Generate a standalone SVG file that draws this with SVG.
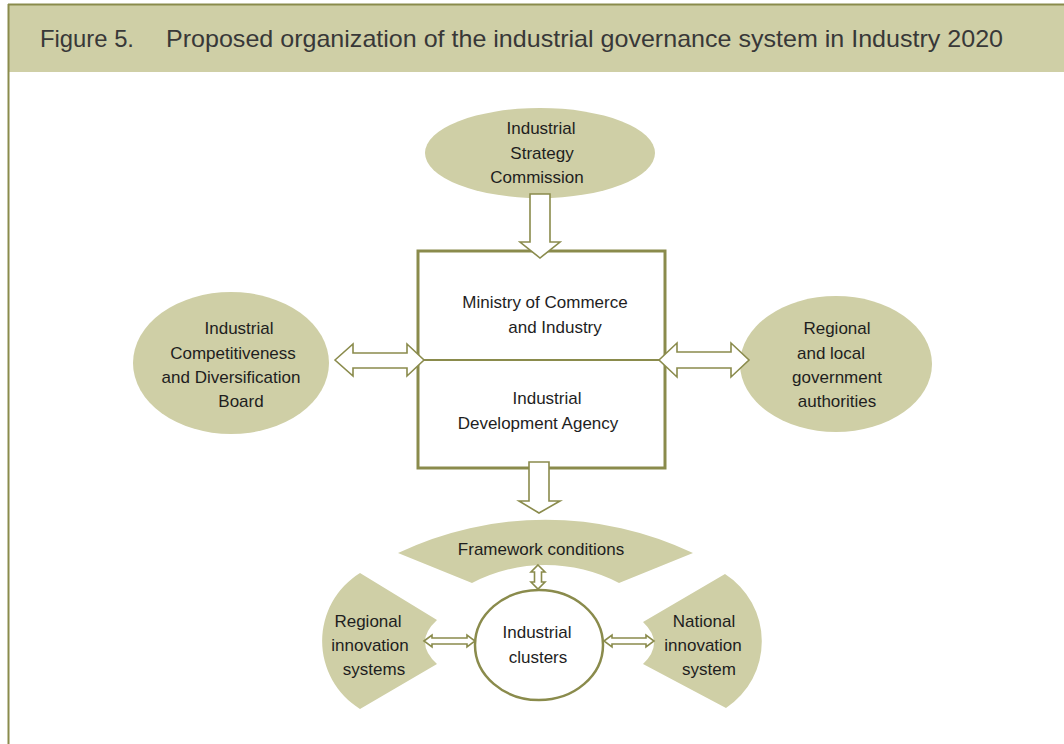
<svg xmlns="http://www.w3.org/2000/svg" width="1064" height="744" viewBox="0 0 1064 744">
  <style>
    .shape { fill: #cfcfa6; stroke: none; }
    .frame { fill: #ffffff; stroke: #8a8b4c; stroke-width: 3; }
    .arrow { fill: #ffffff; stroke: #8a8b4c; stroke-width: 1.6; stroke-linejoin: miter; }
    .label { font-family: "Liberation Sans", Arial, sans-serif; font-size: 17px; fill: #1e1e1e; text-anchor: middle; }
    .title { font-family: "Liberation Sans", Arial, sans-serif; font-size: 24px; fill: #383838; }
  </style>

  <!-- page background and figure frame -->
  <rect x="0" y="0" width="1064" height="744" fill="#ffffff"/>
  <rect x="9" y="5" width="1055" height="67" fill="#cfcfa6"/>
  <line x1="8" y1="4.5" x2="1064" y2="4.5" stroke="#8a8b4c" stroke-width="2"/>
  <line x1="8.5" y1="4" x2="8.5" y2="744" stroke="#8a8b4c" stroke-width="2"/>
  <text class="title" x="40" y="47" textLength="94" lengthAdjust="spacingAndGlyphs">Figure 5.</text>
  <text class="title" x="166" y="47" textLength="837" lengthAdjust="spacingAndGlyphs">Proposed organization of the industrial governance system in Industry 2020</text>

  <g id="strategy-commission">
    <ellipse class="shape" cx="540" cy="153" rx="115" ry="45"/>
    <text class="label" x="541" y="134">Industrial</text>
    <text class="label" x="542" y="159">Strategy</text>
    <text class="label" x="537" y="183">Commission</text>
  </g>

  <g id="competitiveness-board">
    <ellipse class="shape" cx="231" cy="363" rx="98" ry="71"/>
    <text class="label" x="239" y="334">Industrial</text>
    <text class="label" x="233" y="359">Competitiveness</text>
    <text class="label" x="231" y="383">and Diversification</text>
    <text class="label" x="241" y="407">Board</text>
  </g>

  <g id="regional-authorities">
    <ellipse class="shape" cx="836" cy="364" rx="96" ry="68"/>
    <text class="label" x="837" y="334">Regional</text>
    <text class="label" x="831" y="359">and local</text>
    <text class="label" x="837" y="383">government</text>
    <text class="label" x="837" y="407">authorities</text>
  </g>

  <g id="ministry-agency">
    <rect class="frame" x="418" y="251" width="247" height="217"/>
    <line x1="418" y1="360" x2="665" y2="360" stroke="#8a8b4c" stroke-width="2"/>
    <text class="label" x="545" y="308">Ministry of Commerce</text>
    <text class="label" x="555" y="333">and Industry</text>
    <text class="label" x="547" y="404">Industrial</text>
    <text class="label" x="538" y="429">Development Agency</text>
  </g>

  <g id="framework-conditions">
    <path class="shape" d="M398,553 A344,344 0 0 1 693,553 L619,583 A159,159 0 0 0 472,583 Z"/>
    <text class="label" x="541" y="555">Framework conditions</text>
  </g>

  <g id="regional-innovation">
    <path class="shape" d="M360,573 L437,620 Q413,642 437,664 L360,709 A80,80 0 0 1 360,573 Z"/>
    <text class="label" x="368" y="627">Regional</text>
    <text class="label" x="370" y="651">innovation</text>
    <text class="label" x="374" y="675">systems</text>
  </g>

  <g id="national-innovation">
    <path class="shape" d="M725,574 L643,622 Q665,643 643,664 L726,708 A80,80 0 0 0 725,574 Z"/>
    <text class="label" x="704" y="627">National</text>
    <text class="label" x="703" y="651">innovation</text>
    <text class="label" x="709" y="675">system</text>
  </g>

  <g id="industrial-clusters">
    <ellipse cx="539" cy="645" rx="64" ry="55" fill="#ffffff" stroke="#8a8b4c" stroke-width="2.5"/>
    <text class="label" x="537" y="638">Industrial</text>
    <text class="label" x="538" y="663">clusters</text>
  </g>

  <g id="connectors">
    <!-- commission down to ministry -->
    <polygon class="arrow" points="530,194 550,194 550,242 560,242 540,258 520,242 530,242"/>
    <!-- agency down to the cluster system -->
    <polygon class="arrow" points="529,462 549,462 549,501 560,501 539,513 519,501 529,501"/>
    <!-- board to ministry/agency -->
    <polygon class="arrow" points="335,360 353,344 353,353 407,353 407,344 424,360 407,376 407,368 353,368 353,376"/>
    <!-- ministry/agency to regional authorities -->
    <polygon class="arrow" points="659,360 677,343 677,352 731,352 731,343 749,360 731,377 731,368 677,368 677,377"/>
    <!-- framework conditions to clusters -->
    <polygon class="arrow" points="538,565 545,572 541.5,572 541.5,582 545,582 538,589 531,582 534.5,582 534.5,572 531,572"/>
    <!-- regional innovation systems to clusters -->
    <polygon class="arrow" points="424,641 432,635 432,638 467,638 467,635 475,641 467,647 467,644 432,644 432,647"/>
    <!-- clusters to national innovation system -->
    <polygon class="arrow" points="604,641 612,635 612,638 646,638 646,635 654,641 646,647 646,644 612,644 612,647"/>
  </g>
</svg>
